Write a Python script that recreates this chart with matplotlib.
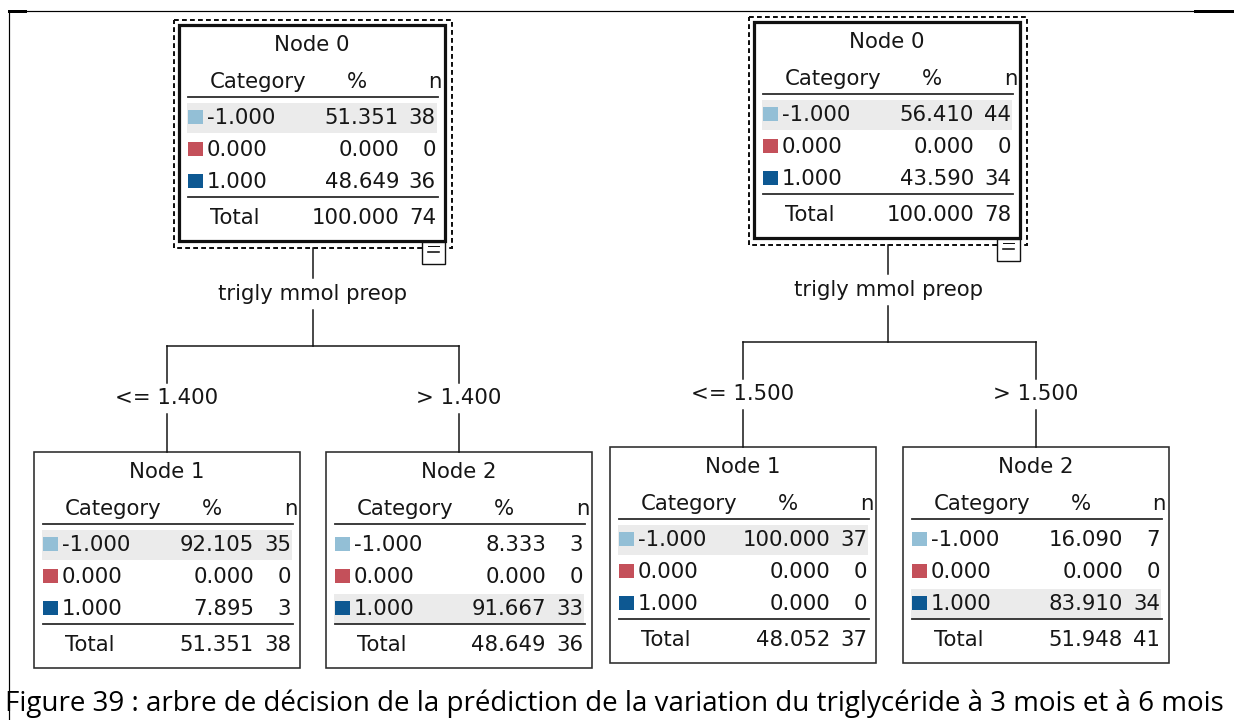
import matplotlib
matplotlib.use("Agg")
import matplotlib.pyplot as plt
from matplotlib.patches import Rectangle

# ---- data -------------------------------------------------------------
categories = ["-1.000", "0.000", "1.000"]
cat_colors = ["#93bfd6", "#c4505a", "#0d5892"]
split_var = "trigly mmol preop"

# tree at 3 months: [node 0, node 1, node 2]
t3_splits = ["<= 1.400", "> 1.400"]
t3_pct = [[51.351, 0.000, 48.649], [92.105, 0.000, 7.895], [8.333, 0.000, 91.667]]
t3_n = [[38, 0, 36], [35, 0, 3], [3, 0, 33]]
t3_total_pct = [100.000, 51.351, 48.649]
t3_total_n = [74, 38, 36]

# tree at 6 months
t6_splits = ["<= 1.500", "> 1.500"]
t6_pct = [[56.410, 0.000, 43.590], [100.000, 0.000, 0.000], [16.090, 0.000, 83.910]]
t6_n = [[44, 0, 34], [37, 0, 0], [7, 0, 34]]
t6_total_pct = [100.000, 48.052, 51.948]
t6_total_n = [78, 37, 41]

caption = ("Figure 39 : arbre de décision de la prédiction de la variation "
           "du triglycéride à 3 mois et à 6 mois")

# ---- layout (pixel units, y downwards) --------------------------------
W, H = 1234, 720
NODE_W, NODE_H = 266, 216
FS = 15.3
FONT = "DejaVu Sans"
EDGE = "#2b2b2b"
PX = 0.72  # points per pixel at dpi 100

fig = plt.figure(figsize=(W / 100, H / 100), dpi=100)
ax = fig.add_axes([0, 0, 1, 1])
ax.set_xlim(0, W)
ax.set_ylim(H, 0)
ax.axis("off")


def txt(x, y, s, ha="left", size=FS, **kw):
    return ax.text(x, y, s, ha=ha, va="center", fontsize=size, family=FONT,
                   color="#161616", **kw)


def draw_node(x0, y0, name, pct, n, tot_pct, tot_n, root=False):
    x1, y1 = x0 + NODE_W, y0 + NODE_H
    cx = (x0 + x1) / 2
    if root:
        ax.add_patch(Rectangle((x0 - 5, y0 - 5), NODE_W + 12, NODE_H + 12,
                               fill=False, ec="#111111", lw=2.0 * PX,
                               ls=(0, (2.4, 1.6))))
        ax.add_patch(Rectangle((x0, y0), NODE_W, NODE_H, fill=True, fc="white",
                               ec="#111111", lw=3.2 * PX))
        # collapse icon
        ax.add_patch(Rectangle((x1 - 23, y1 + 1), 23, 22, fill=True, fc="white",
                               ec="#111111", lw=1.4 * PX, zorder=3))
        ax.plot([x1 - 17, x1 - 6], [y1 + 11, y1 + 11], color="#111111",
                lw=1.6 * PX, zorder=4)
        ax.plot([x1 - 17, x1 - 6], [y1 + 5, y1 + 5], color="#111111",
                lw=1.0 * PX, zorder=4)
    else:
        ax.add_patch(Rectangle((x0, y0), NODE_W, NODE_H, fill=True, fc="white",
                               ec=EDGE, lw=1.6 * PX))

    txt(cx, y0 + 20, name, ha="center")
    txt(x0 + 31, y0 + 57, "Category")
    txt(x0 + 178, y0 + 57, "%", ha="center")
    txt(x1 - 3, y0 + 57, "n", ha="right")
    ax.plot([x0 + 9, x1 - 7], [y0 + 72, y0 + 72], color=EDGE, lw=1.8 * PX)

    best = max(range(len(pct)), key=lambda i: pct[i])
    for i, (cat, p, k) in enumerate(zip(categories, pct, n)):
        ry = y0 + 93 + i * 32
        if i == best:
            ax.add_patch(Rectangle((x0 + 8, ry - 15), NODE_W - 16, 30,
                                   fc="#ebebeb", ec="none", zorder=1))
        ax.add_patch(Rectangle((x0 + 9, ry - 8), 15, 14, fc=cat_colors[i],
                               ec="none", zorder=2))
        txt(x0 + 28, ry, cat, zorder=3)
        txt(x1 - 46, ry, f"{p:.3f}", ha="right", zorder=3)
        txt(x1 - 9, ry, f"{k}", ha="right", zorder=3)

    ax.plot([x0 + 9, x1 - 7], [y0 + 172, y0 + 172], color=EDGE, lw=1.8 * PX)
    txt(x0 + 31, y0 + 193, "Total")
    txt(x1 - 46, y0 + 193, f"{tot_pct:.3f}", ha="right")
    txt(x1 - 9, y0 + 193, f"{tot_n}", ha="right")


def draw_tree(root_xy, child_x0, child_y0, ys, pct, n, tot_pct, tot_n, splits):
    rx, ry = root_xy
    rcx = rx + NODE_W / 2 + 1
    draw_node(rx, ry, "Node 0", pct[0], n[0], tot_pct[0], tot_n[0], root=True)
    y_root_bot = ry + NODE_H + 7
    y_lab, y_bar, y_clab = ys
    lc = "#111111"
    ax.plot([rcx, rcx], [y_root_bot, y_lab - 16], color=lc, lw=1.5 * PX)
    txt(rcx, y_lab, split_var, ha="center")
    ax.plot([rcx, rcx], [y_lab + 16, y_bar], color=lc, lw=1.5 * PX)
    ccx = [cx0 + NODE_W / 2 for cx0 in child_x0]
    ax.plot([ccx[0], ccx[1]], [y_bar, y_bar], color=lc, lw=1.5 * PX)
    for j, cx0 in enumerate(child_x0):
        c = ccx[j]
        ax.plot([c, c], [y_bar, y_clab - 15], color=lc, lw=1.5 * PX)
        txt(c, y_clab, splits[j], ha="center")
        ax.plot([c, c], [y_clab + 16, child_y0], color=lc, lw=1.5 * PX)
        draw_node(cx0, child_y0, f"Node {j + 1}", pct[j + 1], n[j + 1],
                  tot_pct[j + 1], tot_n[j + 1])


draw_tree((179, 25), [34, 326], 452, (294, 346, 398),
          t3_pct, t3_n, t3_total_pct, t3_total_n, t3_splits)
draw_tree((754, 22), [610, 903], 447, (290, 342, 394),
          t6_pct, t6_n, t6_total_pct, t6_total_n, t6_splits)

# page frame
ax.plot([9, W], [11, 11], color="black", lw=1.2 * PX)
ax.plot([9, 25], [11, 11], color="black", lw=3 * PX)
ax.plot([1195, W], [11, 11], color="black", lw=3 * PX)
ax.plot([9, 9], [11, H], color="black", lw=1.2 * PX)

# caption, scaled to span the page width
cap = ax.text(5, 704, caption, ha="left", va="center", fontsize=16,
              family=["Open Sans", "DejaVu Sans"], color="black")
fig.canvas.draw()
bb = cap.get_window_extent()
cap.set_fontsize(16 * 1224 / bb.width)

fig.savefig("out.png", dpi=100)
